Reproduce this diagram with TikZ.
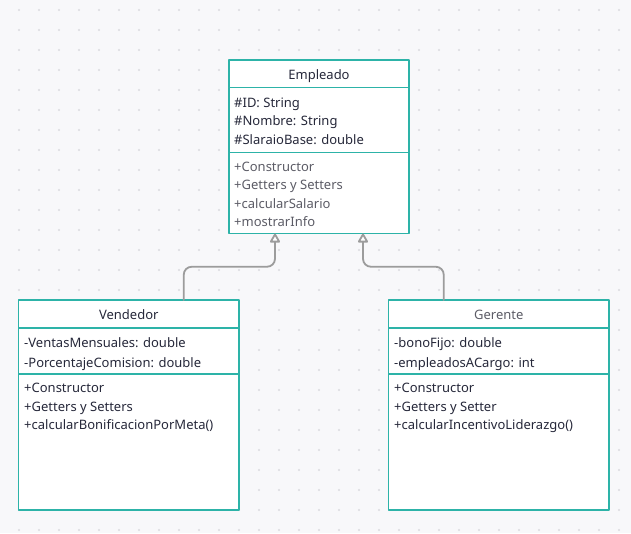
\documentclass[tikz,border=0pt]{standalone}
\usepackage{fontspec}
\setmainfont{Noto Sans}
\usepackage{tikz}
\usetikzlibrary{arrows.meta,positioning,calc}
\definecolor{umlteal}{HTML}{2DB3A8}
\definecolor{ink}{HTML}{26283A}
\definecolor{softgrey}{HTML}{5C5C66}
\definecolor{wire}{HTML}{9C9C9C}
\definecolor{paper}{HTML}{F8F8FA}
\definecolor{griddot}{HTML}{DADADF}
\tikzset{
    every picture/.style={line cap=round,line join=round},
    classtitle/.style={draw=umlteal,fill=white,line width=1.9pt,outer sep=0pt,
      minimum height=27.5pt,inner sep=0pt,text=ink,text height=12pt,text depth=1.5pt,
      font=\fontsize{13}{18.5}\selectfont},
    classpart/.style={draw=umlteal,fill=white,line width=1.9pt,outer sep=0pt,
      inner sep=0pt},
    members/.style={anchor=north west,align=left,inner sep=0pt,text=ink,
      font=\fontsize{13}{18.5}\selectfont},
    inherit/.style={draw=wire,line width=1.8pt,rounded corners=8pt,
      -{Triangle[open,length=10pt,width=11pt,fill=white,round]}}
}
\begin{document}
\begin{tikzpicture}[x=1pt,y=-1pt]
    \useasboundingbox (0,0) rectangle (631,533);
    \fill[paper] (0,0) rectangle (631,533);
    \foreach \gx in {19,39,...,639}
      \foreach \gy in {10,30,...,530}
        \fill[griddot] (\gx,\gy) circle (1.1pt);

    % superclass
    \node[classtitle,minimum width=180pt,anchor=north] (emp) at (319,60) {Empleado};
    \node[classpart,minimum width=180pt,minimum height=65pt,below=0pt of emp] (empattr) {};
    \node[classpart,minimum width=180pt,minimum height=81pt,below=0pt of empattr] (empmeth) {};
    \node[members] (empattrtxt) at ([xshift=5pt,yshift=-6.5pt]empattr.north west)
        {\strut\#ID: String\\\#Nombre: String\\\#SlaraioBase: double};
    \node[members,text=softgrey] (empmethtxt) at ([xshift=5pt,yshift=-5.5pt]empmeth.north west)
        {\strut+Constructor\\+Getters y Setters\\+calcularSalario\\+mostrarInfo};

    % subclasses
    \node[classtitle,minimum width=220.5pt,minimum height=28pt,anchor=north] (vend) at (128.75,300) {Vendedor};
    \node[classpart,minimum width=220.5pt,minimum height=46pt,below=0pt of vend] (vendattr) {};
    \node[classpart,minimum width=220.5pt,minimum height=136pt,below=0pt of vendattr] (vendmeth) {};
    \node[members,font=\fontsize{13}{20}\selectfont] (vendattrtxt) at ([xshift=5.5pt,yshift=-5pt]vendattr.north west)
        {\strut-VentasMensuales: double\\-PorcentajeComision: double};
    \node[members] (vendmethtxt) at ([xshift=5.5pt,yshift=-5.5pt]vendmeth.north west)
        {\strut+Constructor\\+Getters y Setters\\+calcularBonificacionPorMeta()};

    \node[classtitle,minimum width=220.5pt,minimum height=28pt,anchor=north,text=softgrey] (ger) at (498.75,300) {Gerente};
    \node[classpart,minimum width=220.5pt,minimum height=46pt,below=0pt of ger] (gerattr) {};
    \node[classpart,minimum width=220.5pt,minimum height=136pt,below=0pt of gerattr] (germeth) {};
    \node[members,font=\fontsize{13}{20}\selectfont] (gerattrtxt) at ([xshift=5.5pt,yshift=-5pt]gerattr.north west)
        {\strut-bonoFijo: double\\-empleadosACargo: int};
    \node[members] (germethtxt) at ([xshift=5.5pt,yshift=-5.5pt]germeth.north west)
        {\strut+Constructor\\+Getters y Setter\\+calcularIncentivoLiderazgo()};

    % generalisation arrows
    \draw[inherit] ([xshift=55pt]vend.north) |- ($([xshift=55pt]vend.north)!.5!([xshift=-44pt]empmeth.south)$)
        -| ([xshift=-44pt]empmeth.south);
    \draw[inherit] ([xshift=-55pt]ger.north) |- ($([xshift=-55pt]ger.north)!.5!([xshift=44pt]empmeth.south)$)
        -| ([xshift=44pt]empmeth.south);
\end{tikzpicture}
\end{document}
